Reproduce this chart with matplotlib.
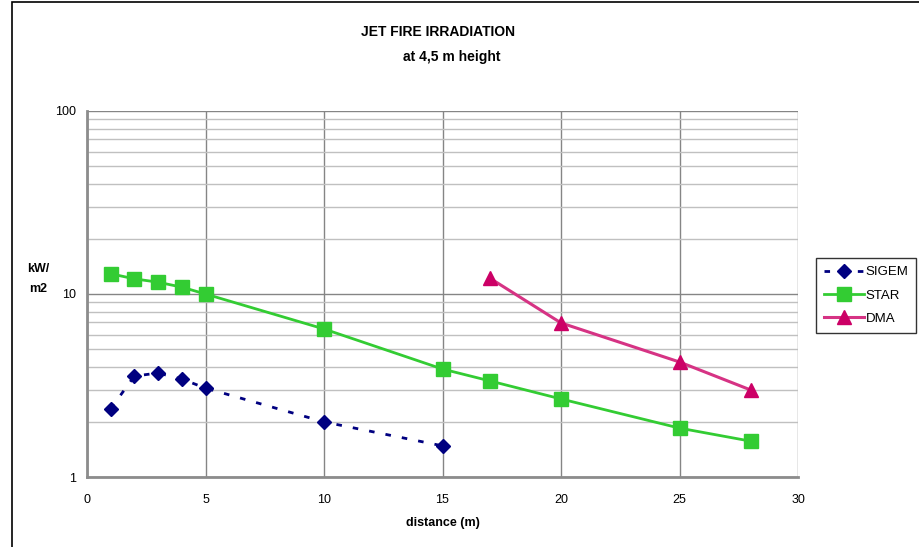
import matplotlib.pyplot as plt
from matplotlib.patches import Rectangle
from matplotlib.ticker import FixedLocator, NullFormatter, LogLocator

plt.rcParams['font.family'] = ['Liberation Sans Narrow', 'Liberation Sans', 'DejaVu Sans']

# data
sigem_x = [1, 2, 3, 4, 5, 10, 15]
sigem_y = [2.36, 3.56, 3.70, 3.43, 3.06, 2.0, 1.48]
star_x = [1, 2, 3, 4, 5, 10, 15, 17, 20, 25, 28]
star_y = [12.9, 12.1, 11.6, 10.9, 10.0, 6.44, 3.89, 3.35, 2.67, 1.85, 1.57]
dma_x = [17, 20, 25, 28]
dma_y = [12.2, 6.95, 4.25, 2.99]
x_ticks = [0, 5, 10, 15, 20, 25, 30]
y_ticks = [1, 10, 100]

fig = plt.figure(figsize=(9.19, 5.47), dpi=100)
ax = fig.add_axes([87/919, 1-477/547, (798-87)/919, (477-111)/547])

# outer chart frame
fig.patches.append(Rectangle((12/919, -0.1), 1.2, 1.1-2/547, transform=fig.transFigure,
                             fill=False, edgecolor='black', linewidth=1.2))

ax.set_yscale('log')
ax.set_xlim(0, 30)
ax.set_ylim(1, 100)

# gridlines
ax.yaxis.set_minor_locator(LogLocator(base=10, subs=range(2, 10)))
ax.yaxis.set_minor_formatter(NullFormatter())
ax.yaxis.set_major_locator(FixedLocator(y_ticks))
ax.set_yticklabels(['1', '10', '100'])
ax.set_xticks(x_ticks)
ax.grid(which='major', axis='both', color='#858585', linewidth=1.0)
ax.grid(which='minor', axis='y', color='#c0c0c0', linewidth=1.0)
ax.set_axisbelow(True)

for s in ['top', 'right']:
    ax.spines[s].set_visible(False)
for s in ['left', 'bottom']:
    ax.spines[s].set_color('#8c8c8c')
    ax.spines[s].set_linewidth(2)
ax.tick_params(which='both', length=0, labelsize=9, pad=12)
ax.tick_params(axis='y', pad=8)

ax.plot(sigem_x, sigem_y, color='#000080', linestyle=(0, (2, 4)), linewidth=2,
        marker='D', markersize=7.5, label='SIGEM')
ax.plot(star_x, star_y, color='#33cc33', linewidth=2,
        marker='s', markersize=10, label='STAR')
ax.plot(dma_x, dma_y, color='#d63384', linewidth=2.2,
        marker='^', markersize=10, markerfacecolor='#cc0066', markeredgecolor='#cc0066',
        label='DMA')

fig.text(438/919, 1-32/547, 'JET FIRE IRRADIATION', ha='center', va='center',
         fontsize=10, fontweight='bold')
fig.text(452/919, 1-57/547, 'at 4,5 m height', ha='center', va='center',
         fontsize=10, fontweight='bold')
ax.set_xlabel('distance (m)', fontsize=9, fontweight='bold', labelpad=8)
fig.text(38/919, 1-279/547, 'kW/\nm2', ha='center', va='center', fontsize=9,
         fontweight='bold', linespacing=1.8)

leg = fig.legend(loc='upper left', bbox_to_anchor=(816/919, 1-258/547),
                 frameon=True, fancybox=False, edgecolor='black', fontsize=9.5,
                 borderpad=0.6, borderaxespad=0, handlelength=3.0,
                 handletextpad=0.15, labelspacing=0.85)
leg.get_frame().set_linewidth(1)

fig.savefig('out.png', dpi=100)
